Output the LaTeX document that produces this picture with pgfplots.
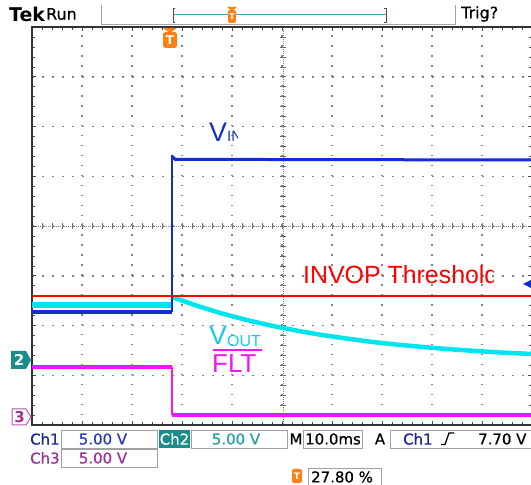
\documentclass[border=0pt]{standalone}
\usepackage{pgfplots}
\pgfplotsset{compat=1.18}
\usepackage{fontspec}
\setmainfont{DejaVu Sans}
\newfontfamily\arial{Liberation Sans}
\newfontfamily\ui{DejaVu Sans}[FakeBold=0.7]
\definecolor{vin}{RGB}{20,45,205}
\definecolor{vout}{RGB}{0,228,238}
\definecolor{flt}{RGB}{245,20,245}
\definecolor{thr}{RGB}{255,0,0}
\definecolor{tekteal}{RGB}{25,140,140}
\definecolor{ch2txt}{RGB}{40,160,160}
\definecolor{ch1txt}{RGB}{30,40,150}
\definecolor{ch1val}{RGB}{40,60,190}
\definecolor{ch3txt}{RGB}{155,50,155}
\definecolor{tekorange}{RGB}{250,130,20}
\definecolor{boxgray}{RGB}{160,160,160}
\definecolor{vinlbl}{RGB}{20,50,190}
\definecolor{voutlbl}{RGB}{20,200,240}
\definecolor{gridgray}{RGB}{130,130,130}
\begin{document}
\begin{tikzpicture}
\useasboundingbox (0,0) rectangle (531bp,485bp);
% centre crosshair of the graticule (pixel coordinates, y down)
\begin{scope}[x=1bp,y=-1bp,yshift=485bp]
  \draw[gridgray, line width=0.5bp, dash pattern=on 1bp off 1bp] (283,27)--(283,425) (32,226)--(532,226);
  \foreach \k in {0,...,40} \draw[gridgray!80!black, line width=0.5bp] (280,{27+\k*9.95})--(286,{27+\k*9.95});
  \foreach \k in {0,...,50} \draw[gridgray!80!black, line width=0.5bp] ({32+\k*10},223)--({32+\k*10},229);
\end{scope}
\begin{axis}[
  at={(32bp,60bp)}, anchor=south west, scale only axis,
  width=500bp, height=398bp,
  xmin=-27.8, xmax=72.2, ymin=-4, ymax=4,
  xtick={-27.8,-17.8,-7.8,2.2,12.2,22.2,32.2,42.2,52.2,62.2,72.2},
  ytick={-4,-3,-2,-1,0,1,2,3,4},
  minor x tick num=4, minor y tick num=4,
  xticklabels={}, yticklabels={},
  tick align=inside, major tick length=4bp, minor tick length=3bp,
  tick style={gray!60!black, line width=0.6bp},
  grid=major,
  x grid style={gridgray, line width=1.5bp, dash pattern=on 1.5bp off 8.45bp},
  y grid style={gridgray, line width=1.5bp, dash pattern=on 1.5bp off 8.5bp},
  axis line style={draw=gray!40!black, line width=1.6bp},
]
% V_OUT (Ch2)
\addplot[vout, line width=6bp] coordinates {(-27.8,-1.588) (0.2,-1.588)};
\addplot[vout, line width=1bp] coordinates {(0.2,-1.588) (0.2,-1.427)};
\addplot[vout, line width=4.5bp, line join=round] coordinates {
  (0.2,-1.427) (5.2,-1.604) (10.2,-1.759) (15.2,-1.891) (20.2,-2.006)
  (25.2,-2.104) (30.2,-2.191) (35.2,-2.263) (40.2,-2.330) (45.2,-2.384)
  (50.2,-2.430) (55.2,-2.472) (60.2,-2.508) (65.2,-2.539) (72.2,-2.573)};
% V_IN (Ch1)
\addplot[vin, line width=3.5bp] coordinates {(-27.8,-1.729) (0.2,-1.729)};
\addplot[vin, line width=1.2bp] coordinates {(0.2,-1.729) (0.2,1.427)};
\addplot[vin, line width=3bp] coordinates {(0.2,1.40) (0.8,1.34) (72.2,1.327)};
% INVOP threshold
\addplot[thr, line width=1.5bp] coordinates {(-27.8,-1.407) (72.2,-1.407)};
% FLT (Ch3)
\addplot[flt, line width=4.5bp] coordinates {(-27.8,-2.834) (0.2,-2.834)};
\addplot[flt, line width=1.2bp] coordinates {(0.2,-2.834) (0.2,-3.799)};
\addplot[flt, line width=4.5bp] coordinates {(0.2,-3.799) (72.2,-3.799)};
\end{axis}
\begin{scope}[x=1bp,y=-1bp,yshift=485bp]
  % top bar
  \node[anchor=west, inner sep=0, font=\fontsize{19}{19}\selectfont\bfseries] at (9,14) {Tek};
  \node[anchor=west, inner sep=0, font=\ui\fontsize{16}{16}\selectfont] at (46,14) {Run};
  \draw[gray!70, line width=0.8bp] (101,5)--(101,24)--(455,24)--(455,5);
  \draw[tekteal!80, line width=1bp] (173,15)--(386,15);
  \draw[black!70, line width=0.8bp] (175,8)--(173,8)--(173,22)--(175,22);
  \draw[black!70, line width=0.8bp] (384,8)--(386,8)--(386,22)--(384,22);
  \fill[tekorange] (227,7)--(237,7)--(232,11)--cycle;
  \fill[tekorange, rounded corners=1.5bp] (228,10) rectangle (236,23);
  \node[white, inner sep=0, font=\bfseries\fontsize{8}{8}\selectfont] at (232,16.5) {T};
  \node[anchor=west, inner sep=0, font=\ui\fontsize{16}{16}\selectfont] at (461,14) {Trig?};
  % trigger position marker
  \fill[tekorange] (163,28)--(177,28)--(170,33)--cycle;
  \fill[tekorange, rounded corners=2.5bp] (163,32) rectangle (177,48);
  \node[white, inner sep=0, font=\bfseries\fontsize{12}{12}\selectfont] at (170,40) {T};
  % channel ground markers
  \fill[tekteal] (11,351)--(26,351)--(31,360)--(26,369)--(11,369)--cycle;
  \node[white, inner sep=0, font=\bfseries\fontsize{15}{15}\selectfont] at (19,360) {2};
  \draw[ch3txt!80, fill=white, line width=1bp] (12,409)--(26,409)--(31,417)--(26,425)--(12,425)--cycle;
  \node[text=ch3txt, inner sep=0, font=\bfseries\fontsize{15}{15}\selectfont] at (19.5,417) {3};
  % trigger level arrow
  \fill[vin] (531,280)--(523,284)--(531,288)--cycle;
  % labels
  \begin{scope}
    \clip (0,0) rectangle (237,485);
    \node[anchor=base west, inner sep=0, text=vinlbl] at (209,142) {\arial\fontsize{27}{27}\selectfont V\fontsize{15}{15}\selectfont IN};
  \end{scope}
  \begin{scope}
    \clip (0,0) rectangle (493,485);
    \node[anchor=base west, inner sep=0, text=thr] at (303,284) {\arial\fontsize{25}{25}\selectfont INVOP Threshold};
  \end{scope}
  \node[anchor=base west, inner sep=0, text=voutlbl] at (209,345) {\arial\fontsize{27}{27}\selectfont V\raisebox{-2bp}{\fontsize{16}{16}\selectfont OUT}};
  \node[anchor=base west, inner sep=0, text=flt] at (212,373) {\arial\fontsize{26}{26}\selectfont FLT};
  \draw[flt, line width=2bp] (213,350)--(262,350);
  % bottom bar
  \begin{scope}[font=\ui\fontsize{15}{15}\selectfont]
    \node[anchor=west, inner sep=0, text=ch1txt] at (30,439) {Ch1};
    \draw[boxgray, line width=0.8bp] (61,430) rectangle (157,448);
    \node[inner sep=0, text=ch1val] at (103,439) {5.00 V};
    \fill[tekteal] (159,430) rectangle (190,448);
    \node[inner sep=0, white] at (174.5,439) {Ch2};
    \draw[boxgray, line width=0.8bp] (191,430) rectangle (287,448);
    \node[inner sep=0, text=ch2txt] at (236,439) {5.00 V};
    \node[inner sep=0] at (296,439) {M};
    \draw[boxgray, line width=0.8bp] (303,430) rectangle (362,448);
    \node[inner sep=0] at (333,439) {10.0ms};
    \node[inner sep=0] at (380,439) {A};
    \draw[boxgray, line width=0.8bp] (390,430) rectangle (540,448);
    \node[anchor=west, inner sep=0, text=ch1txt] at (403,439) {Ch1};
    \draw[black, line width=1.3bp] (441,444.5)--(445,444.5)--(449,433)--(454,433);
    \node[anchor=west, inner sep=0] at (478,439) {7.70 V};
    \node[anchor=west, inner sep=0, text=ch3txt] at (30,458) {Ch3};
    \draw[boxgray, line width=0.8bp] (61,449) rectangle (157,467);
    \node[inner sep=0, text=ch3txt] at (103,458) {5.00 V};
    \fill[tekorange, rounded corners=1.5bp] (292,469) rectangle (302,483);
    \node[white, inner sep=0, font=\bfseries\fontsize{9}{9}\selectfont] at (297,476) {T};
    \draw[boxgray, line width=0.8bp] (308,468) rectangle (381,487);
    \node[anchor=west, inner sep=0] at (311,477) {27.80 \%};
  \end{scope}
\end{scope}
\end{tikzpicture}
\end{document}
